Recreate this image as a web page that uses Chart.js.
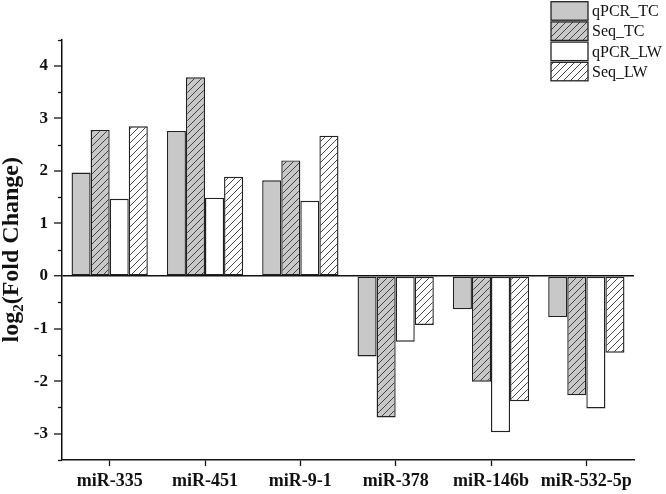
<!DOCTYPE html>
<html>
<head>
<meta charset="utf-8">
<script src="https://cdn.jsdelivr.net/npm/chart.js@4/dist/chart.umd.min.js"></script>
<style>
html,body{margin:0;padding:0;background:#fff;}
canvas{display:block;}
</style>
</head>
<body>
<canvas id="c" width="666" height="494"></canvas>
<script>
const categories = ['miR-335', 'miR-451', 'miR-9-1', 'miR-378', 'miR-146b', 'miR-532-5p'];
const seriesNames = ['qPCR_TC', 'Seq_TC', 'qPCR_LW', 'Seq_LW'];
const qPCR_TC = [1.97, 2.76, 1.82, -1.53, -0.63, -0.78];
const Seq_TC  = [2.78, 3.78, 2.20, -2.69, -2.01, -2.27];
const qPCR_LW = [1.47, 1.49, 1.43, -1.25, -2.97, -2.52];
const Seq_LW  = [2.85, 1.89, 2.67, -0.93, -2.38, -1.46];
const yMin = -3.5, yMax = 4.5;
const yTitleMain = 'log', yTitleSub = '2', yTitleRest = '(Fold Change)';

const SERIF = '"Liberation Serif", "Times New Roman", serif';
const GRAY = '#c8c8c8';
const EDGE = '#222';

function hatch(bg) {
  const s = 7;
  const c = document.createElement('canvas');
  c.width = s; c.height = s;
  const x = c.getContext('2d');
  x.fillStyle = bg; x.fillRect(0, 0, s, s);
  x.strokeStyle = '#333'; x.lineWidth = 0.9;
  x.beginPath();
  x.moveTo(0, s); x.lineTo(s, 0);
  x.moveTo(-1, 1); x.lineTo(1, -1);
  x.moveTo(s - 1, s + 1); x.lineTo(s + 1, s - 1);
  x.stroke();
  return x.createPattern(c, 'repeat');
}

const fills = [GRAY, hatch(GRAY), '#ffffff', hatch('#ffffff')];
const values = [qPCR_TC, Seq_TC, qPCR_LW, Seq_LW];

const datasets = seriesNames.map((n, i) => ({
  label: n,
  data: values[i],
  backgroundColor: fills[i],
  borderColor: EDGE,
  borderWidth: 1.4,
  borderSkipped: false,
  categoryPercentage: 0.8,
  barPercentage: 1.0
}));

const extras = {
  id: 'extras',
  afterDraw(chart) {
    const ctx = chart.ctx;
    const y = chart.scales.y;
    const area = chart.chartArea;
    // minor ticks
    ctx.save();
    ctx.strokeStyle = '#111';
    ctx.lineWidth = 1.3;
    for (let v = yMin; v <= yMax + 1e-9; v += 1) {
      const p = Math.round(y.getPixelForValue(v)) + 0.5;
      ctx.beginPath();
      ctx.moveTo(area.left - 4, p);
      ctx.lineTo(area.left, p);
      ctx.stroke();
    }
    ctx.restore();

    // y title with subscript
    ctx.save();
    const cy = (area.top + area.bottom) / 2;
    ctx.translate(12, cy);
    ctx.rotate(-Math.PI / 2);
    ctx.fillStyle = '#111';
    ctx.textBaseline = 'middle';
    ctx.textAlign = 'left';
    const big = 'bold 24px ' + SERIF, small = 'bold 15px ' + SERIF;
    ctx.font = big;
    const w1 = ctx.measureText(yTitleMain).width;
    const w3 = ctx.measureText(yTitleRest).width;
    ctx.font = small;
    const w2 = ctx.measureText(yTitleSub).width;
    let x0 = -(w1 + w2 + w3) / 2;
    ctx.font = big;
    ctx.fillText(yTitleMain, x0, 0);
    ctx.font = small;
    ctx.fillText(yTitleSub, x0 + w1, 7);
    ctx.font = big;
    ctx.fillText(yTitleRest, x0 + w1 + w2, 0);
    ctx.restore();

    // legend
    ctx.save();
    const bx = 551, bw = 37, bh = 18.5, pitch = 20.2, top0 = 1.7;
    ctx.font = '16px ' + SERIF;
    ctx.textBaseline = 'middle';
    ctx.textAlign = 'left';
    chart.data.datasets.forEach((ds, i) => {
      const ty = top0 + i * pitch;
      ctx.fillStyle = ds.backgroundColor;
      ctx.fillRect(bx, ty, bw, bh);
      ctx.strokeStyle = EDGE;
      ctx.lineWidth = 1.3;
      ctx.strokeRect(bx, ty, bw, bh);
      ctx.fillStyle = '#111';
      ctx.fillText(ds.label, bx + bw + 4, ty + bh / 2 + 1);
    });
    ctx.restore();
  }
};

new Chart(document.getElementById('c'), {
  type: 'bar',
  data: { labels: categories, datasets },
  options: {
    responsive: false,
    animation: false,
    devicePixelRatio: 1,
    layout: { padding: { left: 0, right: 32, top: 39.5, bottom: 0 } },
    plugins: { legend: { display: false }, tooltip: { enabled: false } },
    scales: {
      x: {
        offset: true,
        grid: {
          offset: false,
          drawOnChartArea: false,
          drawTicks: true,
          tickLength: 6,
          tickColor: '#111',
          tickWidth: 1.3
        },
        border: { display: true, color: '#111', width: 1.5 },
        ticks: {
          color: '#111',
          font: { family: SERIF, size: 18, weight: 'bold' },
          padding: 5,
          maxRotation: 0,
          autoSkip: false
        },
        afterFit(s) { s.height = 34; }
      },
      y: {
        min: yMin,
        max: yMax,
        grid: {
          drawOnChartArea: true,
          drawTicks: true,
          tickLength: 8,
          color: (c) => (c.tick && c.tick.value === 0 ? '#111' : 'rgba(0,0,0,0)'),
          lineWidth: (c) => (c.tick && c.tick.value === 0 ? 1.5 : 0),
          tickColor: (c) => (c.tick && Number.isInteger(c.tick.value) ? '#111' : 'rgba(0,0,0,0)'),
          tickWidth: 1.3
        },
        border: { display: true, color: '#111', width: 1.5 },
        ticks: {
          stepSize: 0.5,
          autoSkip: false,
          color: '#111',
          padding: 6,
          font: { family: SERIF, size: 17, weight: 'bold' },
          callback: (v) => (Number.isInteger(v) ? String(v) : '')
        },
        afterFit(s) { s.width = 62; }
      }
    }
  },
  plugins: [extras]
});
</script>
</body>
</html>
